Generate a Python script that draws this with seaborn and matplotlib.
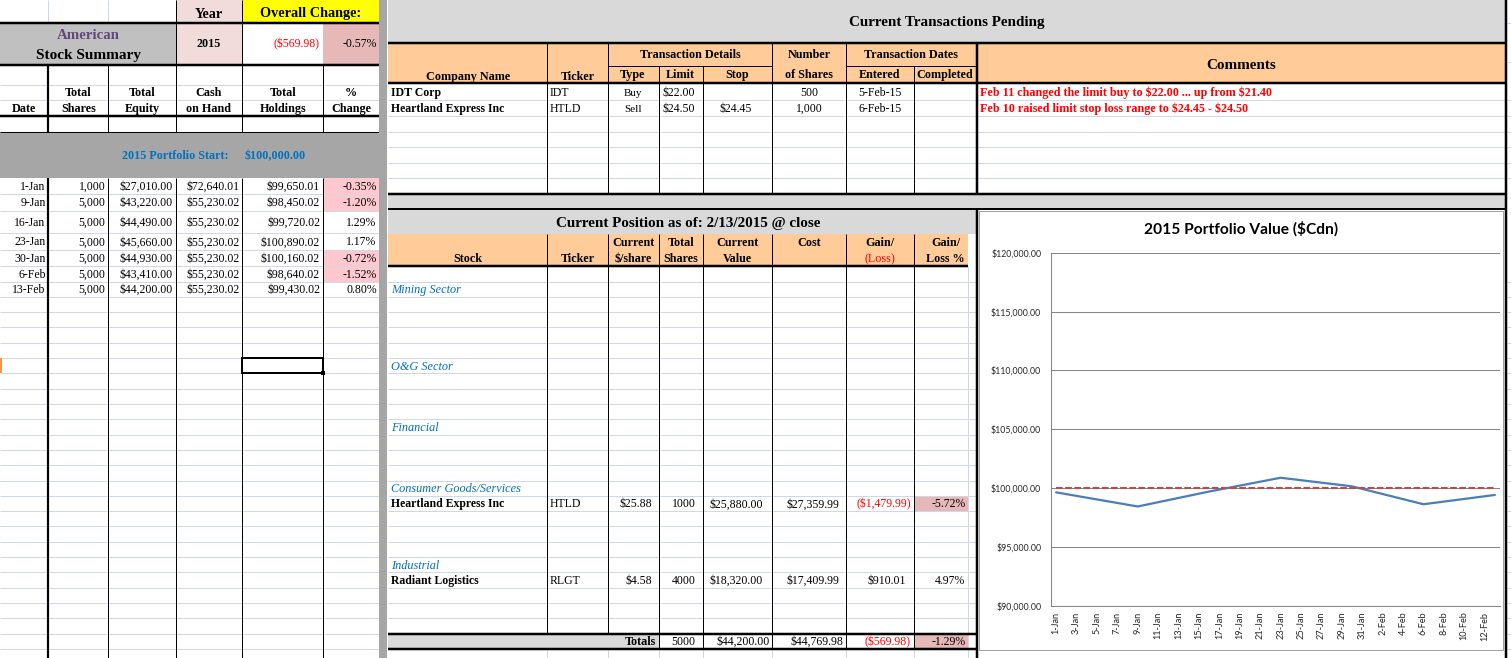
import numpy as np
import pandas as pd
import matplotlib
matplotlib.use("Agg")
import matplotlib.pyplot as plt
import matplotlib.patches as mpatches
from matplotlib.ticker import FixedLocator, FuncFormatter
import seaborn as sns

# ---------------- data ----------------
year = 2015
overall_change = -569.98
overall_change_pct = -0.57
portfolio_start = 100000.00

summary_dates = ["1-Jan", "9-Jan", "16-Jan", "23-Jan", "30-Jan", "6-Feb", "13-Feb"]
total_shares = [1000, 5000, 5000, 5000, 5000, 5000, 5000]
total_equity = [27010.00, 43220.00, 44490.00, 45660.00, 44930.00, 43410.00, 44200.00]
cash_on_hand = [72640.01, 55230.02, 55230.02, 55230.02, 55230.02, 55230.02, 55230.02]
total_holdings = [99650.01, 98450.02, 99720.02, 100890.02, 100160.02, 98640.02, 99430.02]
pct_change = [-0.35, -1.20, 1.29, 1.17, -0.72, -1.52, 0.80]

tx_company = ["IDT Corp", "Heartland Express Inc"]
tx_ticker = ["IDT", "HTLD"]
tx_type = ["Buy", "Sell"]
tx_limit = [22.00, 24.50]
tx_stop = [None, 24.45]
tx_shares = [500, 1000]
tx_entered = ["5-Feb-15", "6-Feb-15"]
tx_comments = ["Feb 11 changed the limit buy to $22.00 ... up from $21.40",
               "Feb 10 raised limit stop loss range to $24.45 - $24.50"]

sectors = ["Mining Sector", "O&G Sector", "Financial", "Consumer Goods/Services", "Industrial"]
pos_stock = ["Heartland Express Inc", "Radiant Logistics"]
pos_ticker = ["HTLD", "RLGT"]
pos_price = [25.88, 4.58]
pos_shares = [1000, 4000]
pos_value = [25880.00, 18320.00]
pos_cost = [27359.99, 17409.99]
pos_gain = [-1479.99, 910.01]
pos_gain_pct = [-5.72, 4.97]
totals_shares = 5000
totals_value = 44200.00
totals_cost = 44769.98
totals_gain = -569.98
totals_gain_pct = -1.29

chart_title = "2015 Portfolio Value ($Cdn)"
x_tick_labels = ["1-Jan", "3-Jan", "5-Jan", "7-Jan", "9-Jan", "11-Jan", "13-Jan", "15-Jan",
                 "17-Jan", "19-Jan", "21-Jan", "23-Jan", "25-Jan", "27-Jan", "29-Jan", "31-Jan",
                 "2-Feb", "4-Feb", "6-Feb", "8-Feb", "10-Feb", "12-Feb"]
y_ticks = [90000, 95000, 100000, 105000, 110000, 115000, 120000]

# ---------------- helpers ----------------
def money(v):
    return f"(${-v:,.2f})" if v < 0 else f"${v:,.2f}"

def pct(v):
    return f"{v:.2f}%"

SERIF = ["Liberation Serif", "DejaVu Serif"]
SANS = ["Lato", "DejaVu Sans"]
GRID = "#D0D7E5"
ORANGE = "#FFCC99"
LGRAY = "#D9D9D9"
PINK = "#FFC7CE"
DPINK = "#E6B8B7"
RED = "#FF0000"
BLUE = "#0070C0"
PX = 0.72

sns.set_style("white")
plt.rcParams["font.family"] = SERIF

W, H = 1511, 658
fig = plt.figure(figsize=(W / 100, H / 100), dpi=100)
fig.patch.set_facecolor("white")
bg = fig.add_axes([0, 0, 1, 1])
bg.set_xlim(0, W)
bg.set_ylim(H, 0)
bg.axis("off")

def rect(x0, y0, x1, y1, color, z=1):
    bg.add_patch(mpatches.Rectangle((x0, y0), x1 - x0, y1 - y0, facecolor=color,
                                    edgecolor="none", zorder=z))

def hl(y, x0, x1, w=1.0, c="black", z=3):
    bg.plot([x0, x1], [y, y], color=c, lw=w * PX, solid_capstyle="butt", zorder=z)

def vl(x, y0, y1, w=1.0, c="black", z=3):
    bg.plot([x, x], [y0, y1], color=c, lw=w * PX, solid_capstyle="butt", zorder=z)

def T(x, y, s, ha="left", size=8.5, bold=False, italic=False, color="black", family=None):
    bg.text(x, y + 0.8, s, ha=ha, va="center", fontsize=size,
            fontweight="bold" if bold else "normal",
            fontstyle="italic" if italic else "normal",
            color=color, family=family or SERIF, zorder=10, parse_math=False)

# common spreadsheet row grid below y~281
row0, rh = 281.5, 15.31
grid_rows = [row0 + rh * k for k in range(25)]

# ================= LEFT PANEL =================
LX = [0, 48.3, 108.3, 175.7, 242.3, 323.3, 378.5]
rect(175.7, 0, 242.3, 65, "#F2DCDB")
rect(242.3, 0, 378.5, 22.7, "#FFFF00")
rect(0, 22.7, 175.7, 65, "#C0C0C0")
rect(323.3, 22.7, 378.5, 65, DPINK)
rect(0, 132.3, 378.5, 178.3, "#A6A6A6")

vl(48.3, 0, 22.7, 1, GRID)
vl(108.3, 0, 22.7, 1, GRID)
vl(175.7, 0, 65, 1)
vl(242.3, 0, 65, 1)
hl(22.7, 0, 378.5, 2.5)
hl(65, 0, 378.5, 2.5)
hl(84.7, 0, 378.5, 1, GRID)
hl(100, 0, 378.5, 1, GRID)
hl(116, 0, 378.5, 2.5)
hl(132.3, 0, 378.5, 1)

left_rows = [178.3, 194, 210.7, 233.3, 250, 266, 281.7, 296.8]
for i, v in enumerate(pct_change):
    if v < 0:
        rect(323.3, left_rows[i], 378.5, left_rows[i + 1], PINK)
for y in left_rows[1:] + grid_rows[2:]:
    hl(y, 0, 378.5, 1, GRID, z=2)

for x, w in zip(LX[1:6], [2.2, 1, 1, 1, 1]):
    vl(x, 65, 132.3, w)
    vl(x, 178.3, H, w)

T(209, 13.5, "Year", "center", 10.2, bold=True)
T(310.5, 12.5, "Overall Change:", "center", 10.3, bold=True)
T(88, 34.5, "American", "center", 10.7, bold=True, color="#60497A")
T(88, 55, "Stock Summary", "center", 11, bold=True)
T(208.7, 43, str(year), "center", 8.7, bold=True)
T(320, 43.5, money(overall_change), "right", 8.5, color=RED)
T(376.5, 43.5, pct(overall_change_pct), "right", 8.5)

hdr_top = ["", "Total", "Total", "Cash", "Total", "%"]
hdr_bot = ["Date", "Shares", "Equity", "on Hand", "Holdings", "Change"]
for i in range(6):
    cx = (LX[i] + LX[i + 1]) / 2
    if hdr_top[i]:
        T(cx, 92.2, hdr_top[i], "center", 8.7, bold=True)
    T(cx, 108.2, hdr_bot[i], "center", 8.7, bold=True)

T(175.8, 155, "2015 Portfolio Start:", "center", 8.7, bold=True, color=BLUE)
T(275.3, 155, money(portfolio_start), "center", 8.7, bold=True, color=BLUE)

RIGHTS = [45.7, 105.3, 172.3, 239.3, 320, 376.7]
for i in range(len(summary_dates)):
    cy = (left_rows[i] + left_rows[i + 1]) / 2
    vals = [summary_dates[i], f"{total_shares[i]:,}", money(total_equity[i]),
            money(cash_on_hand[i]), money(total_holdings[i]), pct(pct_change[i])]
    for r, s in zip(RIGHTS, vals):
        T(r, cy, s, "right", 8.5)

# selected cell
sel_y0, sel_y1 = grid_rows[5], grid_rows[6]
bg.add_patch(mpatches.Rectangle((242.3, sel_y0), 81, sel_y1 - sel_y0, facecolor="none",
                                edgecolor="black", lw=2 * PX, zorder=6))
rect(321.3, sel_y1 - 2, 325.3, sel_y1 + 2, "black", z=7)
rect(0, sel_y0, 2, sel_y1, "#F79646", z=7)

# separator
rect(378.5, 0, 387, H, "#A6A6A6", z=5)

# ================= TRANSACTIONS (top right) =================
rect(388, 0, 1505, 43.3, LGRAY)
rect(388, 43.3, 1505, 83.3, ORANGE)
hl(43.3, 388, 1505, 2.5)
hl(65.7, 607.7, 772.3, 1)
hl(65.7, 846.1, 976, 1)
hl(83.3, 388, 1505, 2.5)
for y in [100, 116, 132.3, 147.3, 163.3, 178.3]:
    hl(y, 388, 1505, 1, GRID, z=2)
hl(193.5, 388, 1505, 2.5)
rect(388, 194.5, 1505, 209.3, LGRAY)
for x in [546.5, 607.7, 772.3, 846.1]:
    vl(x, 43.3, 193.5, 1)
for x in [658.6, 702.6, 913.9]:
    vl(x, 65.7, 193.5, 1)
vl(976.5, 43.3, 193.5, 2.5)
vl(1505.5, 0, H, 2.5, z=8)
for y in [23, 62, 100, 116, 132.3, 147.3, 163.3, 178.3] + grid_rows:
    hl(y, 1507, W, 1, GRID, z=2)

T(946.8, 21.5, "Current Transactions Pending", "center", 10.9, bold=True)
T(468, 76.2, "Company Name", "center", 8.7, bold=True)
T(578, 76.2, "Ticker", "center", 8.7, bold=True)
T(690, 54.5, "Transaction Details", "center", 8.7, bold=True)
T(632.6, 74.5, "Type", "center", 8.7, bold=True)
T(680.6, 74.5, "Limit", "center", 8.7, bold=True)
T(737.5, 74.5, "Stop", "center", 8.7, bold=True)
T(809.2, 54.5, "Number", "center", 8.7, bold=True)
T(809.2, 74.5, "of Shares", "center", 8.7, bold=True)
T(911, 54.5, "Transaction Dates", "center", 8.7, bold=True)
T(880, 74.5, "Entered", "center", 8.7, bold=True)
T(945, 74.5, "Completed", "center", 8.7, bold=True)
T(1241, 64.5, "Comments", "center", 10.9, bold=True)

tx_rows_y = [92.2, 108.2]
for i in range(len(tx_company)):
    y = tx_rows_y[i]
    T(390.7, y, tx_company[i], "left", 8.5, bold=True)
    T(549.5, y, tx_ticker[i], "left", 8.5)
    T(632.6, y, tx_type[i], "center", 8)
    T(694.6, y, money(tx_limit[i]), "right", 8.5)
    if tx_stop[i] is not None:
        T(736, y, money(tx_stop[i]), "center", 8.5)
    T(809.5, y, f"{tx_shares[i]:,}", "center", 8.5)
    T(880.3, y, tx_entered[i], "center", 8.5)
    T(979.7, y, tx_comments[i], "left", 8.7, bold=True, color=RED)

# ================= CURRENT POSITION (bottom middle) =================
hl(209.3, 388, 1505, 2)
rect(388, 210, 977, 234.3, LGRAY)
rect(388, 234.3, 968.2, 265.7, ORANGE)
hl(265.7, 388, 968.2, 2.5)
for y in grid_rows:
    hl(y, 388, 977, 1, GRID, z=2)
tot_y0, tot_y1 = grid_rows[23], grid_rows[24]
rect(388, tot_y0, 658.6, tot_y1, LGRAY)
for x in [546.5, 607.7]:
    vl(x, 234.3, tot_y0, 1)
for x in [658.6, 702.6, 772.3, 846.1, 913.9]:
    vl(x, 234.3, tot_y1, 1)
for x in [546.5, 607.7, 658.6, 702.6, 772.3, 846.1, 913.9]:
    vl(x, tot_y1, H, 1, GRID, z=2)
vl(968.2, 265.7, H, 1, GRID, z=2)

T(688, 222.5, "Current Position as of: 2/13/2015 @ close", "center", 10.9, bold=True)
T(468, 258.5, "Stock", "center", 8.7, bold=True)
T(578, 258.5, "Ticker", "center", 8.7, bold=True)
T(633.5, 242.2, "Current", "center", 8.7, bold=True)
T(633.5, 258.5, "$/share", "center", 8.7, bold=True)
T(680.6, 242.2, "Total", "center", 8.7, bold=True)
T(680.6, 258.5, "Shares", "center", 8.7, bold=True)
T(737.8, 242.2, "Current", "center", 8.7, bold=True)
T(737.8, 258.5, "Value", "center", 8.7, bold=True)
T(809.4, 242.2, "Cost", "center", 8.7, bold=True)
T(880.2, 242.2, "Gain/", "center", 8.7, bold=True)
T(880.2, 258.5, "(Loss)", "center", 8.7, color=RED)
T(945.6, 242.2, "Gain/", "center", 8.7, bold=True)
T(945.6, 258.5, "Loss %", "center", 8.7, bold=True)

def rowc(k):
    return (grid_rows[k] + grid_rows[k + 1]) / 2

sector_rows = [0, 5, 9, 13, 18]
for s, k in zip(sectors, sector_rows):
    T(390.7, rowc(k), s, "left", 8.8, italic=True, color=BLUE)

pos_rows = [14, 19]
for i in range(len(pos_stock)):
    k = pos_rows[i]
    y = rowc(k)
    if pos_gain_pct[i] < 0:
        rect(913.9, grid_rows[k], 968.2, grid_rows[k + 1], DPINK)
    T(390.7, y, pos_stock[i], "left", 8.5, bold=True)
    T(549.5, y, pos_ticker[i], "left", 8.5)
    T(651.7, y, money(pos_price[i]), "right", 8.5)
    T(695.7, y, f"{pos_shares[i]}", "right", 8.5)
    T(762.7, y, money(pos_value[i]), "right", 8.5)
    T(839.2, y, money(pos_cost[i]), "right", 8.5)
    g = pos_gain[i]
    T(910.8 if g < 0 else 906, y, money(g), "right", 8.5, color=RED if g < 0 else "black")
    T(965.5, y, pct(pos_gain_pct[i]), "right", 8.5)

yt = rowc(23)
rect(913.9, tot_y0, 968.2, tot_y1, DPINK)
T(656.3, yt, "Totals", "right", 8.7, bold=True)
T(695.7, yt, f"{totals_shares}", "right", 8.5)
T(769.6, yt, money(totals_value), "right", 8.5)
T(843.8, yt, money(totals_cost), "right", 8.5)
T(910.8, yt, money(totals_gain), "right", 8.5, color=RED)
T(965.5, yt, pct(totals_gain_pct), "right", 8.5)
hl(tot_y0, 388, 977, 2.5, z=4)
hl(tot_y1, 388, 977, 2.5, z=4)
vl(977, 209.3, H, 2.5, z=8)

# ================= CHART =================
bg.add_patch(mpatches.Rectangle((978.7, 210.5), 1503.3 - 978.7, 650 - 210.5, facecolor="white",
                                edgecolor="#A0A0A0", lw=1 * PX, zorder=5))
bg.text(1240.6, 228.5, chart_title, ha="center", va="center", fontsize=11.2,
        fontweight="bold", family=SANS, color="black", zorder=10, parse_math=False)

start_day = pd.Timestamp(f"{year}-01-01")
days = [(pd.to_datetime(f"{d}-{year}", format="%d-%b-%Y") - start_day).days for d in summary_dates]
tick_days = [(pd.to_datetime(f"{d}-{year}", format="%d-%b-%Y") - start_day).days for d in x_tick_labels]

ax_l, ax_r, ax_t, ax_b = 1051, 1500, 252.7, 606
cax = fig.add_axes([ax_l / W, 1 - ax_b / H, (ax_r - ax_l) / W, (ax_b - ax_t) / H], zorder=6)
cax.set_facecolor("white")

sns.lineplot(x=days, y=total_holdings, ax=cax, color="#4A7EBB", lw=1.6, zorder=3)
sns.lineplot(x=[days[0], days[-1]], y=[portfolio_start, portfolio_start], ax=cax,
             color="#BE4B48", lw=1.5, linestyle=(0, (3.2, 1.2)), zorder=4)

cax.set_xlim(days[0] - 0.5, days[-1] + 0.5)
cax.set_ylim(y_ticks[0], y_ticks[-1])
cax.yaxis.set_major_locator(FixedLocator(y_ticks))
cax.yaxis.set_major_formatter(FuncFormatter(lambda v, p: f"${v:,.2f}"))
cax.xaxis.set_major_locator(FixedLocator(tick_days))
cax.set_xticklabels(x_tick_labels, rotation=90, family=SANS, fontsize=6.6)
cax.xaxis.set_minor_locator(FixedLocator([t - 0.5 for t in tick_days] + [days[-1] + 0.5]))
for lab in cax.get_yticklabels():
    lab.set_family(SANS)
    lab.set_fontsize(6.3)
cax.tick_params(axis="x", which="major", length=0, pad=4)
cax.tick_params(axis="x", which="minor", length=3, width=0.75, color="#868686", direction="out")
cax.tick_params(axis="y", which="major", length=3, width=0.75, color="#868686", direction="out", pad=4)
cax.yaxis.grid(True, color="#868686", lw=0.75)
cax.xaxis.grid(False)
cax.set_axisbelow(True)
for side in ["top", "right"]:
    cax.spines[side].set_visible(False)
for side in ["left", "bottom"]:
    cax.spines[side].set_color("#868686")
    cax.spines[side].set_linewidth(0.75)
cax.set_xlabel("")
cax.set_ylabel("")
if cax.get_legend() is not None:
    cax.get_legend().remove()

fig.savefig("out.png", dpi=100, facecolor="white")
